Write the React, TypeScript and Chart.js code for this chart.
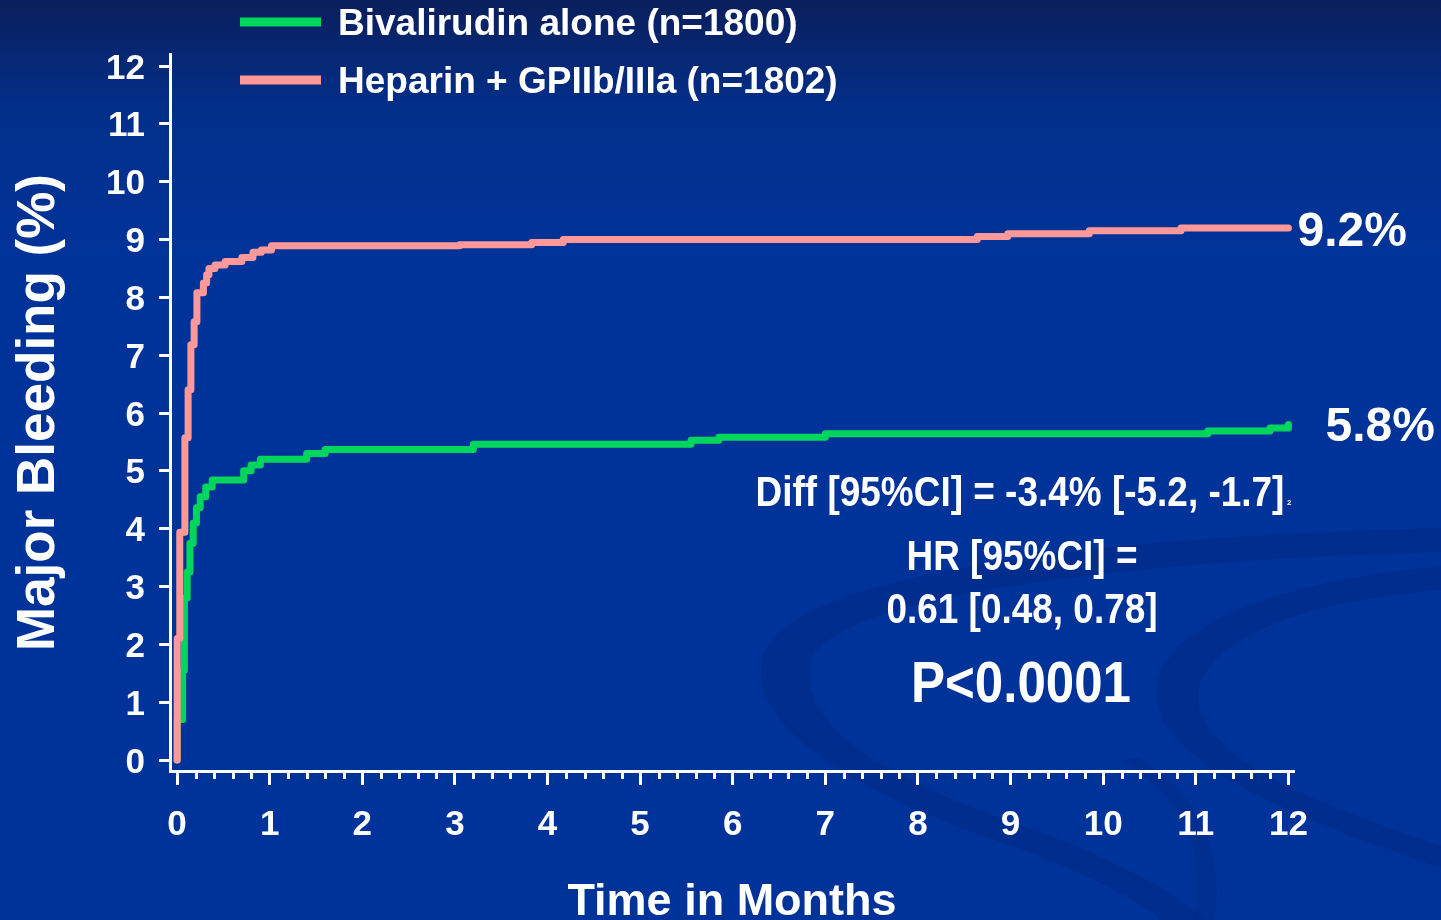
import React, { useEffect, useRef } from "react";
import { Chart, registerables } from "chart.js";

Chart.register(...registerables);

// Axis ticks
const MONTH_TICKS = [0, 1, 2, 3, 4, 5, 6, 7, 8, 9, 10, 11, 12];
const PERCENT_TICKS = [0, 1, 2, 3, 4, 5, 6, 7, 8, 9, 10, 11, 12];
const MINOR_TICK_STEP = 0.2;

// Kaplan-Meier style cumulative event curves (months, % major bleeding)
const BIVAL_MONTHS = [0, 0.002, 0.06, 0.08, 0.11, 0.14, 0.175, 0.21, 0.25, 0.31, 0.38, 0.72, 0.8, 0.9, 1.4, 1.6, 3.2, 5.55, 5.85, 7.0, 11.13, 11.8, 12.0];
const BIVAL_PCT = [0, 0.7, 1.55, 2.8, 3.25, 3.75, 4.1, 4.36, 4.55, 4.72, 4.84, 5.0, 5.1, 5.2, 5.3, 5.37, 5.46, 5.53, 5.58, 5.64, 5.69, 5.74, 5.8];

const HEPARIN_MONTHS = [0, 0.002, 0.03, 0.085, 0.12, 0.15, 0.185, 0.215, 0.285, 0.32, 0.345, 0.41, 0.52, 0.7, 0.82, 0.91, 1.02, 3.05, 3.83, 4.17, 8.64, 8.97, 9.85, 10.84, 12.0];
const HEPARIN_PCT = [0, 2.1, 3.94, 5.57, 6.4, 7.18, 7.58, 8.08, 8.25, 8.39, 8.5, 8.56, 8.62, 8.69, 8.78, 8.82, 8.89, 8.91, 8.95, 9.0, 9.05, 9.1, 9.15, 9.2, 9.2];

const SERIES_LABELS = ["Bivalirudin alone (n=1800)", "Heparin + GPIIb/IIIa (n=1802)"];
const SERIES_COLORS = ["#00d65c", "#ff9898"];
const END_LABELS = ["5.8%", "9.2%"];

const STATS_LINES = ["Diff [95%CI] = -3.4% [-5.2, -1.7]", "HR [95%CI] =", "0.61 [0.48, 0.78]", "P<0.0001"];

const FONT = '"Liberation Sans", Arial, Helvetica, sans-serif';

const toPoints = (xs: number[], ys: number[]) => xs.map((x, i) => ({ x, y: ys[i] }));

// Slide background: dark blue gradient with faint curved bands
const backgroundPlugin = {
  id: "slideBackground",
  beforeDraw(chart: any) {
    const { ctx, width, height } = chart;
    ctx.save();
    const g = ctx.createLinearGradient(0, 0, 0, height);
    g.addColorStop(0, "#0a1f5c");
    g.addColorStop(0.12, "#022f8a");
    g.addColorStop(0.28, "#003399");
    g.addColorStop(1, "#003399");
    ctx.fillStyle = g;
    ctx.fillRect(0, 0, width, height);

    ctx.fillStyle = "rgba(0, 28, 105, 0.22)";
    // large sweeping band
    ctx.beginPath();
    ctx.moveTo(1441, 528);
    ctx.bezierCurveTo(1150, 535, 820, 565, 768, 645);
    ctx.bezierCurveTo(730, 720, 850, 790, 1000, 842);
    ctx.bezierCurveTo(1080, 870, 1140, 900, 1160, 920);
    ctx.lineTo(1205, 920);
    ctx.bezierCurveTo(1175, 890, 1110, 858, 1030, 828);
    ctx.bezierCurveTo(880, 778, 795, 722, 812, 660);
    ctx.bezierCurveTo(840, 592, 1150, 560, 1441, 552);
    ctx.closePath();
    ctx.fill();
    // inner right band
    ctx.beginPath();
    ctx.moveTo(1441, 566);
    ctx.bezierCurveTo(1290, 580, 1175, 618, 1158, 680);
    ctx.bezierCurveTo(1140, 745, 1250, 805, 1441, 868);
    ctx.lineTo(1441, 845);
    ctx.bezierCurveTo(1270, 790, 1185, 740, 1200, 685);
    ctx.bezierCurveTo(1220, 630, 1320, 600, 1441, 590);
    ctx.closePath();
    ctx.fill();
    // lower right arc
    ctx.fillStyle = "rgba(0, 28, 105, 0.16)";
    ctx.beginPath();
    ctx.moveTo(1120, 760);
    ctx.bezierCurveTo(1190, 800, 1205, 860, 1195, 920);
    ctx.lineTo(1215, 920);
    ctx.bezierCurveTo(1225, 850, 1200, 795, 1140, 758);
    ctx.closePath();
    ctx.fill();
    ctx.restore();
  },
};

// Minor ticks, legend, end-point values and statistics text
const overlayPlugin = {
  id: "slideOverlay",
  afterDraw(chart: any) {
    const { ctx } = chart;
    const xs = chart.scales.x;
    const axisY = xs.top;
    ctx.save();

    // minor ticks on the time axis
    ctx.strokeStyle = "#ffffff";
    ctx.lineWidth = 3;
    const last = MONTH_TICKS[MONTH_TICKS.length - 1];
    const n = Math.round(last / MINOR_TICK_STEP);
    for (let i = 1; i < n; i++) {
      if (i % Math.round(1 / MINOR_TICK_STEP) === 0) continue;
      const px = Math.round(xs.getPixelForValue(i * MINOR_TICK_STEP)) + 0.5;
      ctx.beginPath();
      ctx.moveTo(px, axisY);
      ctx.lineTo(px, axisY + 8);
      ctx.stroke();
    }

    // legend
    chart.data.datasets.forEach((ds: any, i: number) => {
      const y = 22 + i * 58;
      ctx.strokeStyle = ds.borderColor;
      ctx.lineWidth = 9;
      ctx.lineCap = "butt";
      ctx.beginPath();
      ctx.moveTo(240, y);
      ctx.lineTo(321, y);
      ctx.stroke();
      ctx.fillStyle = "#ffffff";
      ctx.font = `bold 37px ${FONT}`;
      ctx.textAlign = "left";
      ctx.textBaseline = "middle";
      ctx.fillText(ds.label, 338, y + 3);
    });

    // final values at the end of each curve
    const ys = chart.scales.y;
    ctx.font = `bold 48px ${FONT}`;
    ctx.fillStyle = "#ffffff";
    ctx.textAlign = "left";
    ctx.textBaseline = "middle";
    const endX = xs.getPixelForValue(BIVAL_MONTHS[BIVAL_MONTHS.length - 1]);
    ctx.fillText(END_LABELS[0], endX + 37, ys.getPixelForValue(BIVAL_PCT[BIVAL_PCT.length - 1]) + 3);
    ctx.fillText(END_LABELS[1], endX + 9, ys.getPixelForValue(HEPARIN_PCT[HEPARIN_PCT.length - 1]) + 5);

    // statistics, condensed bold type
    const narrow = (text: string, cx: number, cy: number, size: number) => {
      ctx.save();
      ctx.translate(cx, cy);
      ctx.scale(0.88, 1);
      ctx.font = `bold ${size}px ${FONT}`;
      ctx.textAlign = "center";
      ctx.textBaseline = "middle";
      ctx.fillText(text, 0, 0);
      ctx.restore();
    };
    narrow(STATS_LINES[0], 1020, 494, 42);
    narrow(STATS_LINES[1], 1022, 558, 42);
    narrow(STATS_LINES[2], 1022, 611, 42);
    narrow(STATS_LINES[3], 1021, 686, 58);
    ctx.font = `bold 8px ${FONT}`;
    ctx.textAlign = "left";
    ctx.fillText("2", 1287, 503);

    ctx.restore();
  },
};

export default function App() {
  const canvasRef = useRef<HTMLCanvasElement | null>(null);

  useEffect(() => {
    document.body.style.margin = "0";
    document.body.style.background = "#003399";
    const canvas = canvasRef.current;
    if (!canvas) return;

    const tickFont = { family: FONT, size: 35, weight: "bold" as const };

    const chart = new Chart(canvas, {
      type: "line",
      data: {
        datasets: [
          {
            label: SERIES_LABELS[0],
            data: toPoints(BIVAL_MONTHS, BIVAL_PCT),
            borderColor: SERIES_COLORS[0],
            backgroundColor: SERIES_COLORS[0],
            borderWidth: 7,
            stepped: "before",
            pointRadius: 0,
            borderCapStyle: "round",
            borderJoinStyle: "round",
            fill: false,
            order: 1,
          },
          {
            label: SERIES_LABELS[1],
            data: toPoints(HEPARIN_MONTHS, HEPARIN_PCT),
            borderColor: SERIES_COLORS[1],
            backgroundColor: SERIES_COLORS[1],
            borderWidth: 7,
            stepped: "before",
            pointRadius: 0,
            borderCapStyle: "round",
            borderJoinStyle: "round",
            fill: false,
            order: 0,
          },
        ],
      },
      options: {
        responsive: false,
        animation: false,
        events: [],
        layout: { padding: { left: 0, right: 147, top: 54, bottom: 0 } },
        plugins: {
          legend: { display: false },
          tooltip: { enabled: false },
        },
        scales: {
          x: {
            type: "linear",
            position: "bottom",
            min: -0.0756,
            max: 12.06,
            afterBuildTicks: (s: any) => {
              s.ticks = MONTH_TICKS.map((v) => ({ value: v }));
            },
            afterFit: (s: any) => {
              s.height = 149;
            },
            grid: {
              drawOnChartArea: false,
              drawTicks: true,
              tickLength: 14,
              tickWidth: 3,
              tickColor: "#ffffff",
            },
            border: { display: true, color: "#ffffff", width: 3 },
            ticks: {
              color: "#ffffff",
              font: tickFont,
              padding: 19,
              autoSkip: false,
              maxRotation: 0,
              callback: (v: any) => String(v),
            },
            title: {
              display: true,
              text: "Time in Months",
              color: "#ffffff",
              font: { family: FONT, size: 45, weight: "bold", lineHeight: 1 },
              padding: { top: 0, bottom: -5 },
            },
          },
          y: {
            type: "linear",
            min: -0.19,
            max: 12.2075,
            afterBuildTicks: (s: any) => {
              s.ticks = PERCENT_TICKS.map((v) => ({ value: v }));
            },
            afterFit: (s: any) => {
              s.width = 170;
            },
            grid: {
              drawOnChartArea: false,
              drawTicks: true,
              tickLength: 11,
              tickWidth: 3,
              tickColor: "#ffffff",
            },
            border: { display: true, color: "#ffffff", width: 3 },
            ticks: {
              color: "#ffffff",
              font: tickFont,
              padding: 14,
              labelOffset: 3,
              autoSkip: false,
              callback: (v: any) => String(v),
            },
            title: {
              display: true,
              text: "Major Bleeding (%)",
              color: "#ffffff",
              font: { family: FONT, size: 53, weight: "bold", lineHeight: 1 },
              padding: { top: 13, bottom: 0 },
            },
          },
        },
      },
      plugins: [backgroundPlugin, overlayPlugin],
    });

    return () => chart.destroy();
  }, []);

  return (
    <div style={{ width: 1441, height: 920, overflow: "hidden" }}>
      <canvas ref={canvasRef} width={1441} height={920} style={{ display: "block" }} />
    </div>
  );
}
